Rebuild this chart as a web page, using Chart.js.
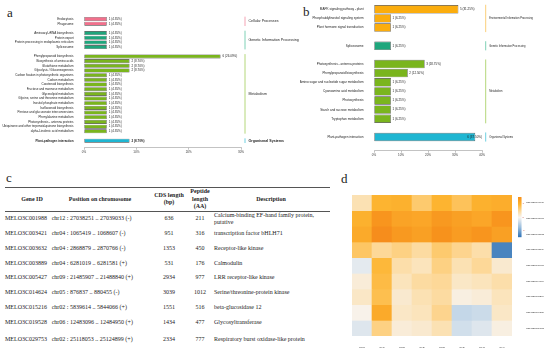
<!DOCTYPE html>
<html>
<head>
<meta charset="utf-8">
<script src="https://cdn.jsdelivr.net/npm/chart.js@4.4.1/dist/chart.umd.min.js"></script>
<style>
    body { margin: 0; width: 550px; height: 350px; position: relative; overflow: hidden; background: #fff; }
    canvas { position: absolute; }
    .panel-letter { position: absolute; font-family: "Liberation Serif", serif; font-size: 13px; color: #222; line-height: 1; }
    #geneTable { position: absolute; left: 5px; top: 187px; width: 325px; border-collapse: collapse; table-layout: fixed;
        font-family: "Liberation Serif", serif; font-size: 6px; line-height: 7.5px; color: #222; }
    #geneTable thead tr { border-top: 1px solid #555; border-bottom: 0.8px solid #555; height: 22px; }
    #geneTable th { font-weight: bold; text-align: center; vertical-align: middle; padding: 0; }
    #geneTable td { vertical-align: middle; padding: 0; height: 14.7px; }
    #geneTable tbody tr:first-child td { height: 15.3px; }
    #geneTable tbody tr:last-child { border-bottom: 1px solid #555; }
    #geneTable tbody tr:last-child td { height: 20px; padding-bottom: 4px; }
    #geneTable td.c { text-align: center; }
</style>
</head>
<body>
<div class="panel-letter" style="left:7px;top:6px">a</div>
<div class="panel-letter" style="left:303px;top:5px">b</div>
<div class="panel-letter" style="left:6px;top:171px">c</div>
<div class="panel-letter" style="left:341px;top:172px">d</div>

<canvas id="chartA" width="310" height="160" style="left:0;top:0"></canvas>
<canvas id="chartB" width="250" height="165" style="left:300px;top:0"></canvas>
<canvas id="chartD" width="210" height="165" style="left:340px;top:185px"></canvas>

<table id="geneTable">
    <colgroup>
        <col style="width:45px"><col style="width:100px"><col style="width:38px"><col style="width:24px"><col style="width:118px">
    </colgroup>
    <thead>
        <tr><th style="padding-left:9px">Gene ID</th><th>Position on chromosome</th><th>CDS length (bp)</th><th>Peptide length (AA)</th><th>Description</th></tr>
    </thead>
    <tbody></tbody>
</table>

<script>
    // ---- panel a: KEGG pathways ----
    const aGroups = ['Cellular Processes', 'Genetic Information Processing', 'Metabolism', 'Organismal Systems'];
    const aPathways = [
        ['Endocytosis', 'Phagosome'],
        ['Aminoacyl-tRNA biosynthesis', 'Protein export', 'Protein processing in endoplasmic reticulum', 'Spliceosome'],
        ['Phenylpropanoid biosynthesis', 'Biosynthesis of amino acids', 'Glutathione metabolism', 'Glycolysis / Gluconeogenesis',
            'Carbon fixation in photosynthetic organisms', 'Carbon metabolism', 'Carotenoid biosynthesis',
            'Fructose and mannose metabolism', 'Glycerolipid metabolism', 'Glycine, serine and threonine metabolism',
            'Inositol phosphate metabolism', 'Isoflavonoid biosynthesis', 'Pentose and glucuronate interconversions',
            'Phenylalanine metabolism', 'Photosynthesis - antenna proteins',
            'Ubiquinone and other terpenoid-quinone biosynthesis', 'alpha-Linolenic acid metabolism'],
        ['Plant-pathogen interaction']
    ];
    const aCounts = [[1, 1], [1, 1, 1, 1], [6, 2, 2, 2, 1, 1, 1, 1, 1, 1, 1, 1, 1, 1, 1, 1, 1], [2]];
    const aPercents = [
        [4.35, 4.35],
        [4.35, 4.35, 4.35, 4.35],
        [26.09, 8.70, 8.70, 8.70, 4.35, 4.35, 4.35, 4.35, 4.35, 4.35, 4.35, 4.35, 4.35, 4.35, 4.35, 4.35, 4.35],
        [8.70]
    ];
    const aTicks = [0, 10, 20, 30];

    // ---- panel b ----
    const bGroups = ['Environmental Information Processing', 'Genetic Information Processing', 'Metabolism', 'Organismal Systems'];
    const bPathways = [
        ['MAPK signaling pathway - plant', 'Phosphatidylinositol signaling system', 'Plant hormone signal transduction'],
        ['Spliceosome'],
        ['Photosynthesis - antenna proteins', 'Phenylpropanoid biosynthesis', 'Amino sugar and nucleotide sugar metabolism',
            'Cyanoamino acid metabolism', 'Photosynthesis', 'Starch and sucrose metabolism', 'Tryptophan metabolism'],
        ['Plant-pathogen interaction']
    ];
    const bCounts = [[5, 1, 1], [1], [3, 2, 1, 1, 1, 1, 1], [6]];
    const bPercents = [[31.25, 6.25, 6.25], [6.25], [18.75, 12.50, 6.25, 6.25, 6.25, 6.25, 6.25], [37.50]];
    const bTicks = [0, 10, 20, 30, 40];

    // ---- panel c: candidate genes ----
    const geneIds = ['MELO3C001988', 'MELO3C003421', 'MELO3C003632', 'MELO3C003889', 'MELO3C005427',
        'MELO3C014624', 'MELO3C015216', 'MELO3C019528', 'MELO3C029753'];
    const genePositions = ['chr12 : 27038251 .. 27039033 (-)', 'chr04 : 1065419 .. 1068607 (-)', 'chr04 : 2868879 .. 2870766 (-)',
        'chr04 : 6281019 .. 6281581 (+)', 'chr09 : 21485907 .. 21488840 (+)', 'chr05 : 876837 .. 880455 (-)',
        'chr02 : 5839614 .. 5844066 (+)', 'chr06 : 12483096 .. 12484950 (+)', 'chr02 : 25118053 .. 25124899 (+)'];
    const cdsLengths = [636, 951, 1353, 531, 2934, 3039, 1551, 1434, 2334];
    const peptideLengths = [211, 316, 450, 176, 977, 1012, 516, 477, 777];
    const descriptions = ['Calcium-binding EF-hand family protein, putative', 'transcription factor bHLH71', 'Receptor-like kinase',
        'Calmodulin', 'LRR receptor-like kinase', 'Serine/threonine-protein kinase', 'beta-glucosidase 12',
        'Glycosyltransferase', 'Respiratory burst oxidase-like protein'];

    // ---- panel d: expression heatmap ----
    const heatSamples = ['RF1d', 'RF1l', 'RF2d', 'RF2l', 'RF3d', 'RF3l', 'RF4d', 'RF4l'];
    const heatGenes = ['MELO3C001988', 'MELO3C003421', 'MELO3C003632', 'MELO3C003889', 'MELO3C005427',
        'MELO3C014624', 'MELO3C015216', 'MELO3C019528', 'MELO3C029753'];
    const heatValues = [
        [0.35, 1.00, 1.05, 0.70, 1.00, 0.80, 1.05, 1.10],
        [1.05, 1.45, 1.25, 1.20, 1.40, 1.30, 1.20, 1.45],
        [1.15, 1.55, 1.40, 1.30, 1.50, 1.35, 1.45, 1.30],
        [0.75, 0.50, 0.60, 0.45, 0.70, 0.55, 0.40, -1.30],
        [-0.15, 0.95, 0.40, 0.30, 0.60, 0.35, 0.50, 0.20],
        [0.15, 0.90, 0.30, 0.45, 0.50, 0.25, 0.30, 0.40],
        [0.25, 0.85, 0.20, 0.35, 0.45, 0.10, 0.15, 0.30],
        [0.05, 1.15, 0.25, 0.30, 0.55, -0.40, -0.35, 0.25],
        [-0.20, 0.60, 0.15, 0.20, 0.35, -0.30, -0.20, 0.10]
    ];
    const heatLegendTicks = [1, 0, -1];

    const aColors = ['#f2708c', '#1ea67c', '#7ab51d', '#1fb6d2'];
    const aLineColors = ['#f4a3b4', '#7fd1b6', '#b4d77a', '#6fd0e1'];
    const bColors = ['#fbad0e', '#1ea67c', '#7ab51d', '#1fb6d2'];
    const bLineColors = ['#fbcf7a', '#7fd1b6', '#b4d77a', '#6fd0e1'];

    const heatStops = [
        [-1.5, [44, 111, 180]], [-0.75, [152, 189, 222]], [0, [247, 245, 243]],
        [0.5, [253, 216, 152]], [1.0, [253, 180, 48]], [1.5, [247, 146, 28]], [2.0, [232, 96, 28]]
    ];

    function heatColor(v) {
        if (v <= heatStops[0][0]) return 'rgb(' + heatStops[0][1].join(',') + ')';
        for (let i = 1; i < heatStops.length; i++) {
            if (v <= heatStops[i][0]) {
                const a = heatStops[i - 1], b = heatStops[i];
                const t = (v - a[0]) / (b[0] - a[0]);
                const c = a[1].map((x, k) => Math.round(x + (b[1][k] - x) * t));
                return 'rgb(' + c.join(',') + ')';
            }
        }
        return 'rgb(' + heatStops[heatStops.length - 1][1].join(',') + ')';
    }

    // flatten grouped pathways into one category axis, with an empty slot between groups
    function buildRows(pathways, counts, percents, colors) {
        const rows = { labels: [], values: [], counts: [], colors: [], group: [] };
        pathways.forEach(function (list, g) {
            if (g > 0) {
                rows.labels.push(''); rows.values.push(null); rows.counts.push(null); rows.colors.push('#fff'); rows.group.push(-1);
            }
            list.forEach(function (name, i) {
                rows.labels.push(name);
                rows.values.push(percents[g][i]);
                rows.counts.push(counts[g][i]);
                rows.colors.push(colors[g]);
                rows.group.push(g);
            });
        });
        rows.labels.push(''); rows.values.push(null); rows.counts.push(null); rows.colors.push('#fff'); rows.group.push(-1);
        return rows;
    }

    // value labels after each bar and the grouping brackets on the right
    function keggPlugin(rows, groups, lineColors, opts) {
        return {
            id: 'kegg',
            afterDatasetsDraw: function (chart) {
                const ctx = chart.ctx;
                const meta = chart.getDatasetMeta(0);
                const area = chart.chartArea;
                const yScale = chart.scales.y;
                const half = (yScale.getPixelForValue(1) - yScale.getPixelForValue(0)) / 2;
                ctx.save();
                ctx.textBaseline = 'middle';
                meta.data.forEach(function (bar, i) {
                    if (rows.values[i] === null) return;
                    const bold = opts.boldGroup === rows.group[i];
                    ctx.font = (bold ? 'bold ' : '') + opts.valueSize + 'px "Liberation Sans", Arial, sans-serif';
                    ctx.fillStyle = '#222';
                    const text = rows.counts[i] + ' (' + rows.values[i].toFixed(2) + '%)';
                    const w = ctx.measureText(text).width;
                    let x = bar.x + opts.valueGap;
                    if (x + w > area.right) x = area.right - w;
                    ctx.fillText(text, x, bar.y);
                });
                groups.forEach(function (name, g) {
                    const idx = rows.group.map((v, i) => v === g ? i : -1).filter(i => i >= 0);
                    const y0 = yScale.getPixelForValue(idx[0]) - half;
                    const y1 = yScale.getPixelForValue(idx[idx.length - 1]) + half;
                    ctx.strokeStyle = lineColors[g];
                    ctx.lineWidth = 1;
                    ctx.beginPath();
                    ctx.moveTo(opts.lineX, y0);
                    ctx.lineTo(opts.lineX, y1);
                    ctx.stroke();
                    ctx.font = (opts.boldGroup === g ? 'bold ' : '') + opts.groupSize + 'px "Liberation Sans", Arial, sans-serif';
                    ctx.fillStyle = '#222';
                    ctx.fillText(name, opts.lineX + 3.5, (y0 + y1) / 2);
                });
                ctx.restore();
            }
        };
    }

    function keggChart(id, rows, groups, lineColors, ticks, geo, opts) {
        return new Chart(document.getElementById(id), {
            type: 'bar',
            data: {
                labels: rows.labels,
                datasets: [{
                    data: rows.values,
                    backgroundColor: rows.colors,
                    borderColor: '#3a3a3a',
                    borderWidth: opts.border,
                    borderSkipped: false,
                    barPercentage: opts.barPct,
                    categoryPercentage: 1
                }]
            },
            options: {
                indexAxis: 'y',
                responsive: false,
                animation: false,
                devicePixelRatio: 1,
                layout: { padding: { left: 0, top: geo.top, right: geo.right, bottom: 0 } },
                plugins: { legend: { display: false }, tooltip: { enabled: false } },
                scales: {
                    y: {
                        grid: { display: false },
                        border: { display: false },
                        ticks: {
                            autoSkip: false,
                            padding: 2.5,
                            color: '#222',
                            font: function (c) {
                                return {
                                    size: opts.labelSize,
                                    family: '"Liberation Sans", Arial, sans-serif',
                                    weight: rows.group[c.index] === opts.boldGroup ? 'bold' : 'normal'
                                };
                            }
                        },
                        afterFit: function (scale) { scale.width = geo.left; }
                    },
                    x: {
                        min: ticks[0],
                        max: ticks[ticks.length - 1],
                        afterBuildTicks: function (scale) { scale.ticks = ticks.map(v => ({ value: v })); },
                        grid: { drawOnChartArea: false, tickLength: 2, color: '#9a9a9a', lineWidth: 0.6 },
                        border: { color: '#9a9a9a', width: 0.6 },
                        ticks: {
                            padding: 1,
                            color: '#333',
                            font: { size: 3, family: '"Liberation Sans", Arial, sans-serif' },
                            callback: function (v) { return v + '%'; }
                        },
                        afterFit: function (scale) { scale.height = geo.axisHeight; }
                    }
                }
            },
            plugins: [keggPlugin(rows, groups, lineColors, opts)]
        });
    }

    const aRows = buildRows(aPathways, aCounts, aPercents, aColors);
    keggChart('chartA', aRows, aGroups, aLineColors, aTicks,
        { left: 84, top: 16.66, right: 69, axisHeight: 12.3 },
        { labelSize: 3, valueSize: 3, groupSize: 3.6, valueGap: 2, lineX: 245, boldGroup: 3, barPct: 0.86, border: 0.6 });

    const bRows = buildRows(bPathways, bCounts, bPercents, bColors);
    keggChart('chartB', bRows, bGroups, bLineColors, bTicks,
        { left: 74, top: 4.74, right: 68, axisHeight: 14.3 },
        { labelSize: 3.1, valueSize: 3, groupSize: 2.6, valueGap: 1.5, lineX: 185.7, boldGroup: -2, barPct: 0.92, border: 0.6 });

    // ---- table ----
    const tbody = document.querySelector('#geneTable tbody');
    geneIds.forEach(function (id, i) {
        const tr = document.createElement('tr');
        tr.innerHTML =
            '<td>' + id + '</td>' +
            '<td style="padding-left:1.7px">' + genePositions[i] + '</td>' +
            '<td class="c">' + cdsLengths[i] + '</td>' +
            '<td class="c">' + peptideLengths[i] + '</td>' +
            '<td style="padding-left:2px">' + descriptions[i] + '</td>';
        tbody.appendChild(tr);
    });

    // ---- heatmap: one stacked bar segment per cell ----
    const heatLegend = {
        id: 'heatLegend',
        afterDraw: function (chart) {
            const ctx = chart.ctx;
            const area = chart.chartArea;
            const yScale = chart.scales.y;
            ctx.save();
            // row names
            ctx.font = '2.4px "Liberation Sans", Arial, sans-serif';
            ctx.fillStyle = '#333';
            ctx.textBaseline = 'middle';
            heatGenes.forEach(function (g, i) {
                ctx.fillText(g, area.right + 14, yScale.getPixelForValue(i + 0.5));
            });
            // colour bar
            const x = area.right + 6, top = area.top + 2, h = 40, w = 3.5;
            const vMax = 1.5, vMin = -1.5;
            for (let p = 0; p < h; p++) {
                ctx.fillStyle = heatColor(vMax - (vMax - vMin) * p / h);
                ctx.fillRect(x, top + p, w, 1.2);
            }
            ctx.fillStyle = '#c0392b';
            heatLegendTicks.forEach(function (t) {
                ctx.fillText(String(t), x + w + 1, top + (vMax - t) / (vMax - vMin) * h);
            });
            ctx.restore();
        }
    };

    new Chart(document.getElementById('chartD'), {
        type: 'bar',
        data: {
            labels: heatSamples,
            datasets: heatGenes.map(function (g, r) {
                return {
                    label: g,
                    data: heatSamples.map(() => 1),
                    backgroundColor: heatValues[r].map(heatColor),
                    borderWidth: 0,
                    barPercentage: 1,
                    categoryPercentage: 1
                };
            })
        },
        options: {
            responsive: false,
            animation: false,
            devicePixelRatio: 1,
            layout: { padding: { left: 12, top: 10, right: 38, bottom: 0 } },
            plugins: { legend: { display: false }, tooltip: { enabled: false } },
            scales: {
                x: {
                    stacked: true,
                    grid: { display: false },
                    border: { display: false },
                    ticks: { padding: 2, color: '#444', font: { size: 2.4, family: '"Liberation Sans", Arial, sans-serif' } },
                    afterFit: function (scale) { scale.height = 14; }
                },
                y: { stacked: true, display: false, min: 0, max: heatGenes.length, reverse: true }
            }
        },
        plugins: [heatLegend]
    });
</script>
</body>
</html>
